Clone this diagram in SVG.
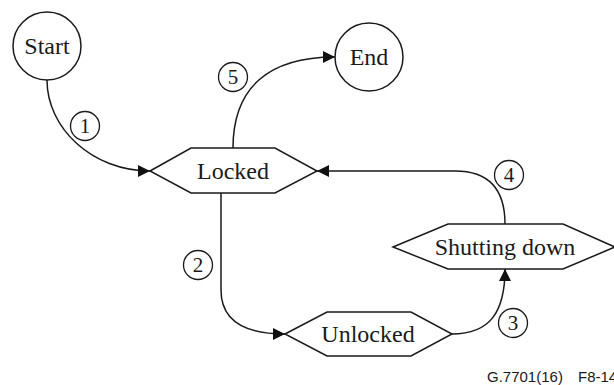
<svg xmlns="http://www.w3.org/2000/svg" width="614" height="385" viewBox="0 0 614 385">
<style>
.shape{fill:#fff;stroke:#1a1a1a;stroke-width:1.5}
.lbl{font-family:"Liberation Serif","Times New Roman",serif;font-size:24px;fill:#1a1a1a;text-anchor:middle}
.num{font-family:"Liberation Serif","Times New Roman",serif;font-size:21px;fill:#1a1a1a;text-anchor:middle}
.nc{fill:#fff;stroke:#1a1a1a;stroke-width:1.3}
.edge{fill:none;stroke:#1a1a1a;stroke-width:1.5;marker-end:url(#arr)}
.foot{font-family:"Liberation Sans",Arial,sans-serif;font-size:15px;fill:#1a1a1a}
</style>
<defs>
<marker id="arr" markerUnits="userSpaceOnUse" markerWidth="12" markerHeight="12" refX="12" refY="6" orient="auto">
<path d="M0,0 L12,6 L0,12 z" fill="#111"/>
</marker>
</defs>
<g id="connectors">
<path class="edge" d="M47,80 C47,128 92,171 150,171"/>
<path class="edge" d="M233,148 C233,88 268,57 335,57"/>
<path class="edge" d="M221,193 L221,290 C221,318 240,334 285,334"/>
<path class="edge" d="M452,334 C490,334 505,312 505,269"/>
<path class="edge" d="M505,224 C505,188 488,171 455,171 L317,171"/>
</g>
<g id="start">
<circle class="shape" cx="47" cy="46" r="34"/>
<text class="lbl" x="47" y="54">Start</text>
</g>
<g id="end">
<circle class="shape" cx="369" cy="57" r="34"/>
<text class="lbl" x="369" y="65">End</text>
</g>
<g id="locked">
<polygon class="shape" points="150,171 191,148 275,148 317,171 275,193 191,193"/>
<text class="lbl" x="233" y="179">Locked</text>
</g>
<g id="unlocked">
<polygon class="shape" points="285,334 327,312 411,312 452,334 411,356 327,356"/>
<text class="lbl" x="368" y="342">Unlocked</text>
</g>
<g id="shutting-down">
<polygon class="shape" points="393,247 448,224 563,224 615,247 563,269 448,269"/>
<text class="lbl" x="505" y="255">Shutting down</text>
</g>
<g id="label1"><circle class="nc" cx="85" cy="126" r="14.5"/><text class="num" x="85" y="133">1</text></g>
<g id="label2"><circle class="nc" cx="198" cy="265" r="14.5"/><text class="num" x="198" y="272">2</text></g>
<g id="label3"><circle class="nc" cx="513" cy="323" r="14.5"/><text class="num" x="513" y="330">3</text></g>
<g id="label4"><circle class="nc" cx="509" cy="175" r="14.5"/><text class="num" x="509" y="182">4</text></g>
<g id="label5"><circle class="nc" cx="233" cy="77" r="14.5"/><text class="num" x="233" y="84">5</text></g>
<text class="foot" x="487" y="382">G.7701(16)</text>
<text class="foot" x="578" y="382">F8-14</text>
</svg>
